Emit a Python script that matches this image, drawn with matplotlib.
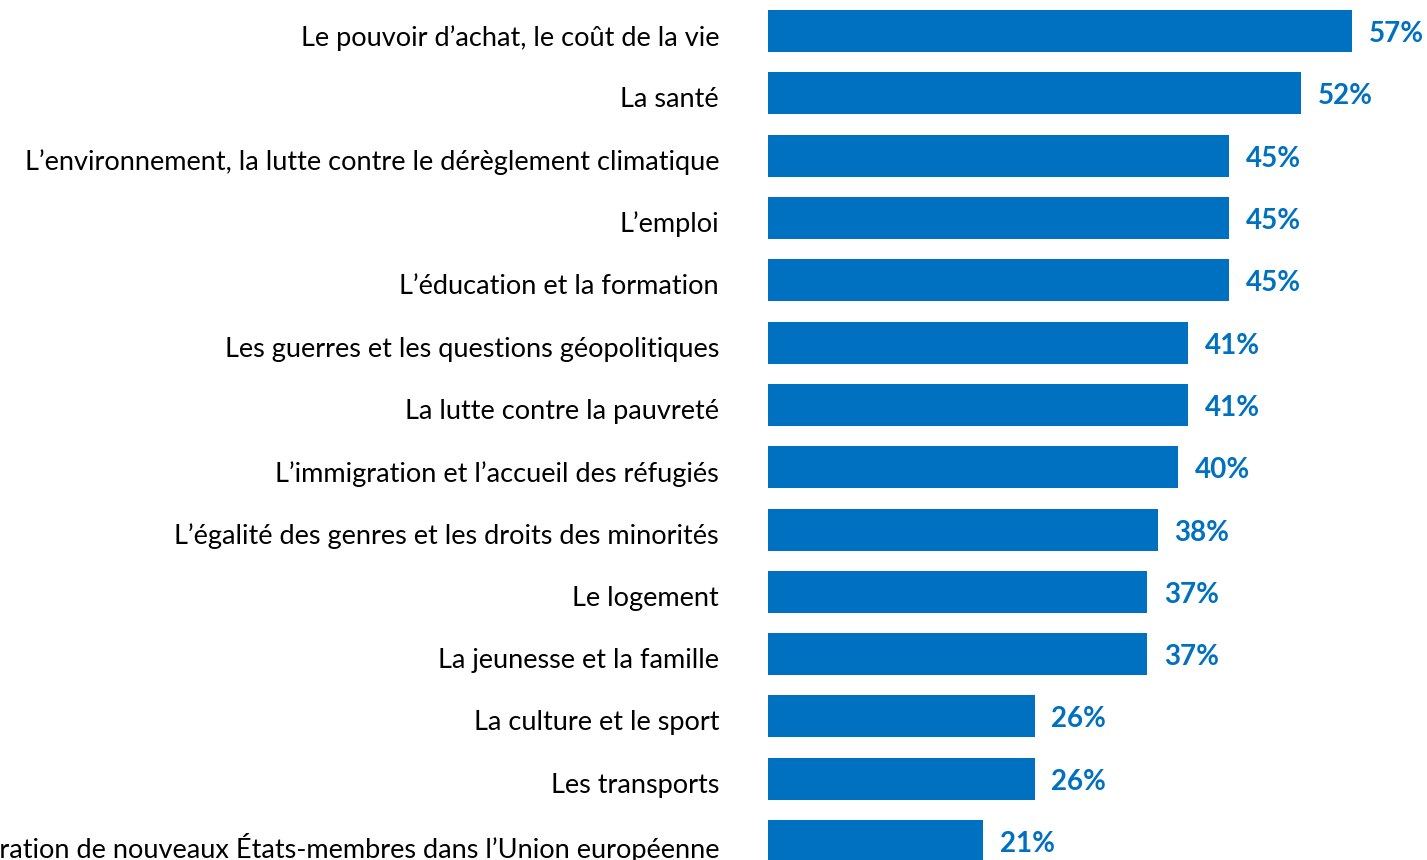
import matplotlib
matplotlib.use("Agg")
import matplotlib.pyplot as plt
from matplotlib.transforms import ScaledTranslation

# Data
categories = [
    "Le pouvoir d\u2019achat, le co\u00fbt de la vie",
    "La sant\u00e9",
    "L\u2019environnement, la lutte contre le d\u00e9r\u00e8glement climatique",
    "L\u2019emploi",
    "L\u2019\u00e9ducation et la formation",
    "Les guerres et les questions g\u00e9opolitiques",
    "La lutte contre la pauvret\u00e9",
    "L\u2019immigration et l\u2019accueil des r\u00e9fugi\u00e9s",
    "L\u2019\u00e9galit\u00e9 des genres et les droits des minorit\u00e9s",
    "Le logement",
    "La jeunesse et la famille",
    "La culture et le sport",
    "Les transports",
    "L\u2019int\u00e9gration de nouveaux \u00c9tats-membres dans l\u2019Union europ\u00e9enne",
]
values = [57, 52, 45, 45, 45, 41, 41, 40, 38, 37, 37, 26, 26, 21]

blue = "#0070C0"
plt.rcParams['font.family'] = ['Lato', 'DejaVu Sans']

fig = plt.figure(figsize=(14.27, 8.6), dpi=100)
ax = fig.add_axes([768 / 1427, 0, 1 - 768 / 1427, 1])

ypos = list(range(len(categories)))
ax.barh(ypos, values, height=0.674, color=blue)

ax.set_xlim(0, 659 / 10.25)
ax.set_ylim(-0.5 + 860 / 62.3, -0.5)

# value labels at bar end
for y, v in zip(ypos, values):
    ax.annotate(f"{v}%", (v, y), xytext=(17, -3), textcoords="offset pixels",
                va="center", ha="left", fontsize=20, fontweight="bold",
                color=blue, clip_on=False)

ax.set_yticks(ypos)
ax.set_yticklabels(categories, fontsize=19.5, color="#000000")
ax.tick_params(axis="y", length=0, pad=49 * 0.72)
shift = ScaledTranslation(0, -4 / 100, fig.dpi_scale_trans)
for lab in ax.get_yticklabels():
    lab.set_transform(lab.get_transform() + shift)
ax.set_xticks([])
for s in ax.spines.values():
    s.set_visible(False)

fig.savefig("out.png", dpi=100)
